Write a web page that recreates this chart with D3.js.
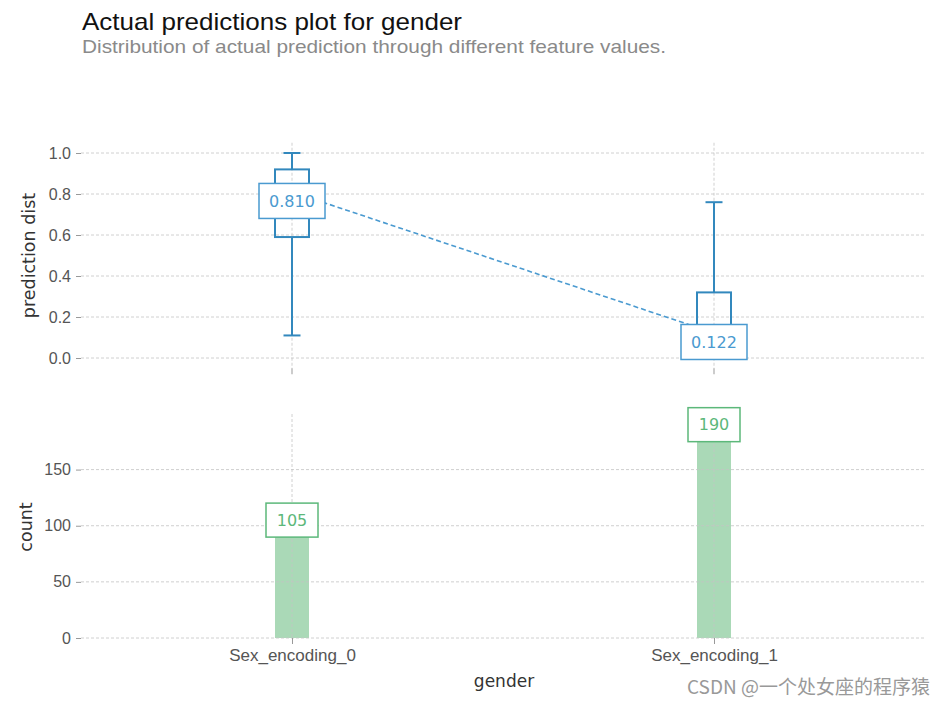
<!DOCTYPE html>
<html>
<head>
<meta charset="utf-8">
<script src="https://cdn.jsdelivr.net/npm/d3@7"></script>
<style>
  html, body { margin: 0; padding: 0; background: #fff; }
  svg { display: block; font-family: "Liberation Sans", Arial, sans-serif; }
</style>
</head>
<body>
<svg id="chart" width="946" height="705"></svg>
<script>
// ---------- data ----------
const categories = ["Sex_encoding_0", "Sex_encoding_1"];
const whiskerLow  = [0.11, 0.00];
const q1          = [0.59, 0.04];
const median      = [0.80, 0.09];
const q3          = [0.92, 0.32];
const whiskerHigh = [1.00, 0.76];
const meanPred    = [0.810, 0.122];
const counts      = [105, 190];
const topTicks    = [0.0, 0.2, 0.4, 0.6, 0.8, 1.0];
const countTicks  = [0, 50, 100, 150];

const title = "Actual predictions plot for gender";
const subtitle = "Distribution of actual prediction through different feature values.";

// ---------- layout ----------
const svg = d3.select("#chart");
const blue = "#3288bd", blueText = "#4a9ad0";
const green = "#5cb87a", barFill = "#55b46f";
const gridCol = "#c4c4c4";
const tickCol = "#555";

const x = d3.scaleLinear().domain([-0.5, 1.5]).range([81, 925]);
const yTop = d3.scaleLinear().domain([-0.05, 1.05]).range([368.25, 142.75]);
const yBot = d3.scaleLinear().domain([0, 199.5]).range([638, 414]);

// title
svg.append("text").attr("x", 82).attr("y", 30).attr("font-size", 24).attr("fill", "#111")
  .attr("textLength", 380).attr("lengthAdjust", "spacingAndGlyphs").text(title);
svg.append("text").attr("x", 82).attr("y", 53).attr("font-size", 18.5).attr("fill", "#8a8a8a")
  .attr("textLength", 584).attr("lengthAdjust", "spacingAndGlyphs").text(subtitle);

function gridAndAxes(g, y, ticks, fmt, yr) {
  g.selectAll(".hg").data(ticks).enter().append("line")
    .attr("x1", x.range()[0]).attr("x2", x.range()[1])
    .attr("y1", d => y(d)).attr("y2", d => y(d))
    .attr("stroke", gridCol).attr("stroke-width", 0.8).attr("stroke-dasharray", "3,2");
  g.selectAll(".vg").data(categories).enter().append("line")
    .attr("x1", (d, i) => x(i)).attr("x2", (d, i) => x(i))
    .attr("y1", yr[1]).attr("y2", yr[0])
    .attr("stroke", gridCol).attr("stroke-width", 0.8).attr("stroke-dasharray", "3,2");
  const ax = d3.axisLeft(y).tickValues(ticks).tickFormat(fmt).tickSize(5).tickPadding(5);
  const a = g.append("g").attr("transform", `translate(${x.range()[0]},0)`).call(ax);
  a.select(".domain").remove();
  a.selectAll(".tick line").attr("stroke", "#999");
  a.selectAll(".tick text").attr("font-size", 16).attr("fill", tickCol)
    .attr("font-family", "Liberation Sans, Arial, sans-serif");
}

// ---------- top panel ----------
const gTop = svg.append("g");
gridAndAxes(gTop, yTop, topTicks, d3.format(".1f"), yTop.range());
gTop.selectAll(".xt").data(categories).enter().append("line")
  .attr("x1", (d, i) => x(i)).attr("x2", (d, i) => x(i))
  .attr("y1", yTop.range()[0]).attr("y2", yTop.range()[0] + 6)
  .attr("stroke", "#999");

const boxW = 34, capW = 17;
categories.forEach((c, i) => {
  const cx = x(i);
  const g = gTop.append("g").attr("stroke", blue).attr("stroke-width", 2).attr("fill", "none");
  g.append("line").attr("x1", cx).attr("x2", cx).attr("y1", yTop(q3[i])).attr("y2", yTop(whiskerHigh[i]));
  g.append("line").attr("x1", cx).attr("x2", cx).attr("y1", yTop(q1[i])).attr("y2", yTop(whiskerLow[i]));
  g.append("line").attr("x1", cx - capW / 2).attr("x2", cx + capW / 2).attr("y1", yTop(whiskerHigh[i])).attr("y2", yTop(whiskerHigh[i]));
  g.append("line").attr("x1", cx - capW / 2).attr("x2", cx + capW / 2).attr("y1", yTop(whiskerLow[i])).attr("y2", yTop(whiskerLow[i]));
  g.append("rect").attr("x", cx - boxW / 2).attr("width", boxW)
    .attr("y", yTop(q3[i])).attr("height", yTop(q1[i]) - yTop(q3[i]));
  g.append("line").attr("x1", cx - boxW / 2).attr("x2", cx + boxW / 2).attr("y1", yTop(median[i])).attr("y2", yTop(median[i]));
});

gTop.append("path")
  .datum(meanPred)
  .attr("d", d3.line().x((d, i) => x(i)).y(d => yTop(d)))
  .attr("fill", "none").attr("stroke", blueText).attr("stroke-width", 1.6).attr("stroke-dasharray", "5,3");

categories.forEach((c, i) => {
  const cx = x(i), cy = yTop(meanPred[i]) + 9;
  const w = 66, h = 35;
  gTop.append("rect").attr("x", cx - w / 2).attr("y", cy - h / 2).attr("width", w).attr("height", h)
    .attr("fill", "#fff").attr("stroke", blueText).attr("stroke-width", 1.5);
  gTop.append("text").attr("x", cx).attr("y", cy).attr("dy", "0.36em").attr("text-anchor", "middle")
    .attr("font-family", "DejaVu Sans, sans-serif").attr("font-size", 16).attr("fill", blueText)
    .text(d3.format(".3f")(meanPred[i]));
});

gTop.append("text").attr("transform", `translate(35,${(yTop(0) + yTop(1)) / 2}) rotate(-90)`)
  .attr("text-anchor", "middle").attr("font-family", "DejaVu Sans, sans-serif")
  .attr("font-size", 17.5).attr("fill", "#333").text("prediction dist");

// ---------- bottom panel ----------
const gBot = svg.append("g");
gBot.selectAll(".bar").data(counts).enter().append("rect")
  .attr("x", (d, i) => x(i) - boxW / 2).attr("width", boxW)
  .attr("y", d => yBot(d)).attr("height", d => yBot(0) - yBot(d))
  .attr("fill", barFill).attr("fill-opacity", 0.5);
gridAndAxes(gBot, yBot, countTicks, d3.format("d"), yBot.range());

const xAx = d3.axisBottom(x).tickValues([0, 1]).tickFormat((d) => categories[d]).tickSize(6).tickPadding(5);
const xa = gBot.append("g").attr("transform", `translate(0,${yBot(0)})`).call(xAx);
xa.select(".domain").remove();
xa.selectAll(".tick line").attr("stroke", "#999");
xa.selectAll(".tick text").attr("font-size", 17).attr("fill", tickCol)
  .attr("font-family", "Liberation Sans, Arial, sans-serif");

counts.forEach((v, i) => {
  const cx = x(i), cy = yBot(v);
  const w = 52, h = 34;
  gBot.append("rect").attr("x", cx - w / 2).attr("y", cy - h / 2).attr("width", w).attr("height", h)
    .attr("fill", "#fff").attr("stroke", green).attr("stroke-width", 1.5);
  gBot.append("text").attr("x", cx).attr("y", cy).attr("dy", "0.36em").attr("text-anchor", "middle")
    .attr("font-family", "DejaVu Sans, sans-serif").attr("font-size", 16).attr("fill", green)
    .text(v);
});

gBot.append("text").attr("transform", `translate(32,527) rotate(-90)`)
  .attr("text-anchor", "middle").attr("font-family", "DejaVu Sans, sans-serif")
  .attr("font-size", 17.5).attr("fill", "#333").text("count");

svg.append("text").attr("x", 504).attr("y", 687).attr("text-anchor", "middle")
  .attr("font-family", "DejaVu Sans, sans-serif").attr("font-size", 17).attr("fill", "#333").text("gender");

svg.append("text").attr("x", 930).attr("y", 694).attr("text-anchor", "end")
  .attr("font-family", "Noto Sans CJK SC, sans-serif").attr("font-size", 19).attr("fill", "#999")
  .text("CSDN @一个处女座的程序猿");
</script>
</body>
</html>
